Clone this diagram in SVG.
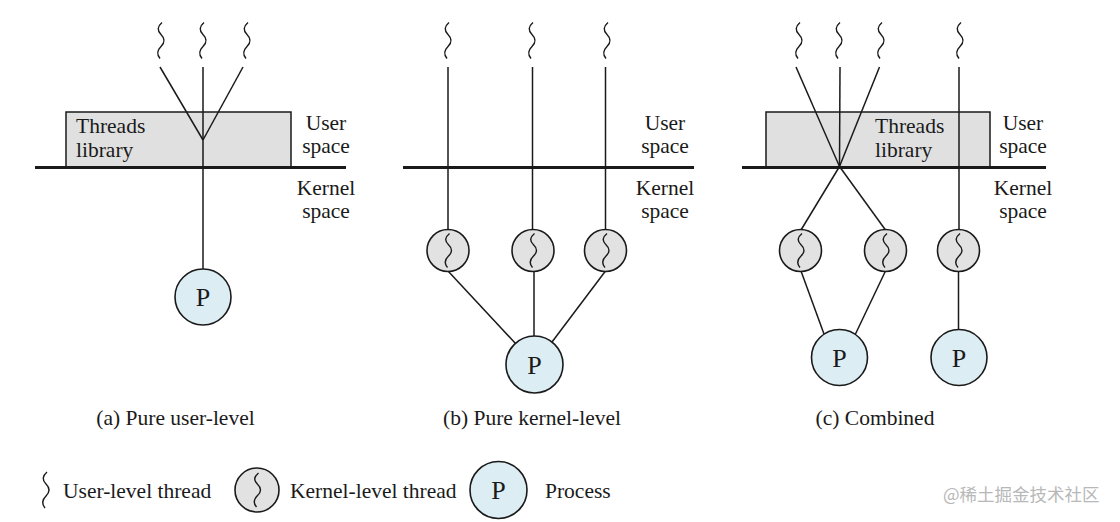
<svg xmlns="http://www.w3.org/2000/svg" width="1120" height="522" viewBox="0 0 1120 522">
<style>
.t{font-family:"Liberation Serif","Times New Roman",serif;font-size:21.5px;fill:#1a1a1a}
.m{text-anchor:middle}
.p{font-family:"Liberation Serif","Times New Roman",serif;font-size:26px;fill:#1a1a1a;text-anchor:middle}
.ln{stroke:#1a1a1a;stroke-width:1.5;fill:none}
.bar{stroke:#1a1a1a;stroke-width:3;fill:none}
.lib{fill:#e0e0e0;stroke:#1a1a1a;stroke-width:1.5}
.kt{fill:#e2e2e2;stroke:#1a1a1a;stroke-width:1.6}
.pr{fill:#dcedf3;stroke:#1a1a1a;stroke-width:1.6}
.sq{fill:none;stroke:#1a1a1a;stroke-width:1.4}
.wm{font-family:"Noto Sans CJK SC","Noto Sans",sans-serif;font-size:17.5px;fill:#b8b8b8}
</style>
<defs>
<path id="sq" class="sq" d="M2,0 q-7,6 -1,12 t0,12 t-1,12"/>
<path id="sqk" class="sq" d="M1.5,-17 q-7,5.7 -1,11.3 t0,11.3 t-1,11.4"/>
</defs>

<!-- thread libraries -->
<g id="lib-a"><rect class="lib" x="66" y="112" width="225" height="55"/><text class="t" x="76" y="133">Threads</text><text class="t" x="76" y="157">library</text></g>
<g id="lib-c"><rect class="lib" x="766" y="112" width="224" height="55"/><text class="t" x="875" y="133">Threads</text><text class="t" x="875" y="157">library</text></g>

<!-- user/kernel space boundaries -->
<g id="boundary-a"><line class="bar" x1="35" y1="167.5" x2="346" y2="167.5"/><text class="t m" x="326" y="130">User</text><text class="t m" x="326" y="153">space</text><text class="t m" x="326" y="195">Kernel</text><text class="t m" x="326" y="218">space</text></g>
<g id="boundary-b"><line class="bar" x1="403" y1="167.5" x2="694" y2="167.5"/><text class="t m" x="665" y="130">User</text><text class="t m" x="665" y="153">space</text><text class="t m" x="665" y="195">Kernel</text><text class="t m" x="665" y="218">space</text></g>
<g id="boundary-c"><line class="bar" x1="742" y1="167.5" x2="1046" y2="167.5"/><text class="t m" x="1023" y="130">User</text><text class="t m" x="1023" y="153">space</text><text class="t m" x="1023" y="195">Kernel</text><text class="t m" x="1023" y="218">space</text></g>

<!-- connectors -->
<g id="connectors">
<line class="ln" x1="160" y1="67" x2="203" y2="140"/>
<line class="ln" x1="243" y1="67" x2="203" y2="140"/>
<line class="ln" x1="203" y1="67" x2="203" y2="269"/>

<line class="ln" x1="448" y1="67" x2="448" y2="230"/>
<line class="ln" x1="532.5" y1="67" x2="532.5" y2="230"/>
<line class="ln" x1="605.5" y1="67" x2="605.5" y2="230"/>
<line class="ln" x1="448" y1="271" x2="516" y2="344"/>
<line class="ln" x1="534" y1="271" x2="534" y2="337"/>
<line class="ln" x1="605.5" y1="271" x2="552" y2="342"/>

<line class="ln" x1="796" y1="67" x2="839.5" y2="166.5"/>
<line class="ln" x1="840" y1="67" x2="839.5" y2="166.5"/>
<line class="ln" x1="879.5" y1="67" x2="839.5" y2="166.5"/>
<line class="ln" x1="839.5" y1="166.5" x2="801" y2="230"/>
<line class="ln" x1="839.5" y1="166.5" x2="885.5" y2="230"/>
<line class="ln" x1="959" y1="67" x2="959" y2="230"/>
<line class="ln" x1="801" y1="271" x2="824" y2="334"/>
<line class="ln" x1="885.5" y1="271" x2="855" y2="335"/>
<line class="ln" x1="958.5" y1="271" x2="958.5" y2="330"/>
</g>

<!-- user-level threads -->
<g id="ut-a1"><use href="#sq" x="160" y="22.5"/></g>
<g id="ut-a2"><use href="#sq" x="202" y="22.5"/></g>
<g id="ut-a3"><use href="#sq" x="246" y="22.5"/></g>
<g id="ut-b1"><use href="#sq" x="447" y="22.5"/></g>
<g id="ut-b2"><use href="#sq" x="531" y="22.5"/></g>
<g id="ut-b3"><use href="#sq" x="606" y="22.5"/></g>
<g id="ut-c1"><use href="#sq" x="798" y="22.5"/></g>
<g id="ut-c2"><use href="#sq" x="838" y="22.5"/></g>
<g id="ut-c3"><use href="#sq" x="880" y="22.5"/></g>
<g id="ut-c4"><use href="#sq" x="959" y="22.5"/></g>

<!-- kernel-level threads -->
<g id="kt-b1"><circle class="kt" cx="448" cy="250.5" r="21"/><use href="#sqk" x="448" y="250.5"/></g>
<g id="kt-b2"><circle class="kt" cx="533" cy="250.5" r="21"/><use href="#sqk" x="533" y="250.5"/></g>
<g id="kt-b3"><circle class="kt" cx="605.5" cy="250.5" r="21"/><use href="#sqk" x="605.5" y="250.5"/></g>
<g id="kt-c1"><circle class="kt" cx="800.5" cy="250.5" r="21"/><use href="#sqk" x="800.5" y="250.5"/></g>
<g id="kt-c2"><circle class="kt" cx="885.5" cy="250.5" r="21"/><use href="#sqk" x="885.5" y="250.5"/></g>
<g id="kt-c3"><circle class="kt" cx="958.5" cy="250.5" r="21"/><use href="#sqk" x="958.5" y="250.5"/></g>

<!-- processes -->
<g id="proc-a"><circle class="pr" cx="203" cy="297" r="28"/><text class="p" x="203" y="306">P</text></g>
<g id="proc-b"><circle class="pr" cx="534.5" cy="364.5" r="28.5"/><text class="p" x="534.5" y="373.5">P</text></g>
<g id="proc-c1"><circle class="pr" cx="839.5" cy="357.5" r="28"/><text class="p" x="839.5" y="366.5">P</text></g>
<g id="proc-c2"><circle class="pr" cx="959" cy="357.5" r="28"/><text class="p" x="959" y="366.5">P</text></g>

<!-- captions -->
<g id="captions">
<text class="t m" x="175.5" y="425">(a) Pure user-level</text>
<text class="t m" x="532" y="425">(b) Pure kernel-level</text>
<text class="t m" x="875" y="425">(c) Combined</text>
</g>

<!-- legend -->
<g id="legend">
<use href="#sq" x="45" y="472"/>
<text class="t" x="63" y="498">User-level thread</text>
<circle class="kt" cx="257" cy="490" r="22"/><use href="#sqk" x="257" y="490"/>
<text class="t" x="290" y="498">Kernel-level thread</text>
<circle class="pr" cx="498.5" cy="490" r="28.5"/><text class="p" x="498.5" y="499">P</text>
<text class="t" x="545" y="498">Process</text>
</g>

<text class="wm" x="943" y="501">@稀土掘金技术社区</text>
</svg>
